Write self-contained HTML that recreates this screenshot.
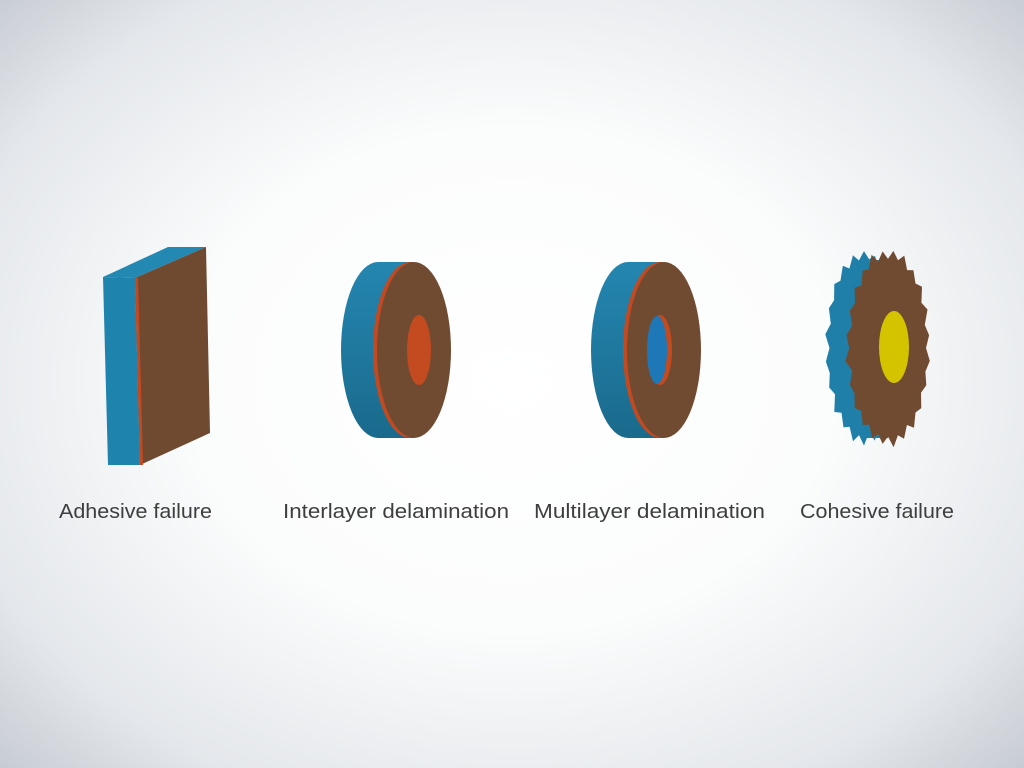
<!DOCTYPE html>
<html><head><meta charset="utf-8"><style>
html,body{margin:0;padding:0;width:1024px;height:768px;overflow:hidden}
body{background:radial-gradient(ellipse 720px 560px at 512px 380px,#ffffff 0%,#fbfcfc 45%,#e4e7eb 80%,#c6cbd2 100%)}
</style></head><body>
<svg width="1024" height="768" viewBox="0 0 1024 768" xmlns="http://www.w3.org/2000/svg">
<defs>
<linearGradient id="bl" x1="0" y1="0" x2="0" y2="1"><stop offset="0" stop-color="#2486b0"/><stop offset="1" stop-color="#1a6a8c"/></linearGradient>
</defs>
<!-- Adhesive -->
<polygon points="103,277 168,247 206,247 135,278" fill="#2388b2"/>
<polygon points="103,277 135,278 140,465 108,465" fill="#1f84ad"/>
<polygon points="135,278 206,247 210,433 140,465" fill="#6f4a30"/>
<polygon points="135,278 138,278 143,465 140,465" fill="#c24a22"/>
<!-- Interlayer -->
<ellipse cx="378" cy="350" rx="37" ry="88" fill="url(#bl)"/>
<rect x="378" y="262" width="36" height="176" fill="url(#bl)"/>
<ellipse cx="410" cy="350" rx="37" ry="88" fill="#c24a22"/>
<ellipse cx="414" cy="350" rx="37" ry="88" fill="#704b31"/>
<ellipse cx="419" cy="350" rx="12" ry="35" fill="#c44a20"/>
<!-- Multilayer -->
<ellipse cx="628" cy="350" rx="37" ry="88" fill="url(#bl)"/>
<rect x="628" y="262" width="36" height="176" fill="url(#bl)"/>
<ellipse cx="660" cy="350" rx="37" ry="88" fill="#c24a22"/>
<ellipse cx="664" cy="350" rx="37" ry="88" fill="#704b31"/>
<ellipse cx="660" cy="350" rx="12" ry="35" fill="#c44a20"/>
<ellipse cx="657" cy="350" rx="10" ry="34" fill="#1e78b8"/>
<!-- Cohesive -->
<g id="coh"></g>
<ellipse cx="894" cy="347" rx="15" ry="36" fill="#d4c400"/>
<g font-family="Liberation Sans, sans-serif" font-size="20" fill="#3e3e3e">
<text x="59" y="518" textLength="153" lengthAdjust="spacingAndGlyphs">Adhesive failure</text>
<text x="283" y="518" textLength="226" lengthAdjust="spacingAndGlyphs">Interlayer delamination</text>
<text x="534" y="518" textLength="231" lengthAdjust="spacingAndGlyphs">Multilayer delamination</text>
<text x="800" y="518" textLength="154" lengthAdjust="spacingAndGlyphs">Cohesive failure</text>
</g>
</svg>
<script>
(function(){
var g=document.getElementById('coh');var ns='http://www.w3.org/2000/svg';
function jag(cx,cy,rx,ry,n,amp,seed){var p=[];var s=seed;for(var i=0;i<n;i++){var a=i/n*Math.PI*2;s=(s*9301+49297)%233280;var r=1+(i%2?amp:-amp)*(0.5+s/233280);p.push((cx+Math.cos(a)*rx*r).toFixed(1)+','+(cy+Math.sin(a)*ry*r).toFixed(1));}return p.join(' ');}
var back=document.createElementNS(ns,'polygon');back.setAttribute('points',jag(864,348,37,92,44,0.05,3));back.setAttribute('fill','#1f7fa8');g.appendChild(back);
var mid=document.createElementNS(ns,'rect');mid.setAttribute('x',864);mid.setAttribute('y',260);mid.setAttribute('width',24);mid.setAttribute('height',178);mid.setAttribute('fill','#1f7fa8');g.appendChild(mid);
var f=document.createElementNS(ns,'polygon');f.setAttribute('points',jag(888,348,40,94,48,0.05,7));f.setAttribute('fill','#704b31');g.appendChild(f);
})();
</script>
</body></html>
